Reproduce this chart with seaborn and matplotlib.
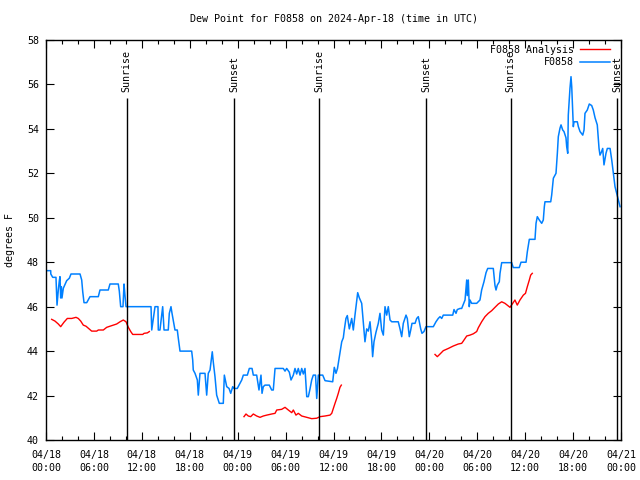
import numpy as np
import pandas as pd
import matplotlib
matplotlib.use('Agg')
import matplotlib.pyplot as plt
import matplotlib.dates as mdates
from matplotlib.lines import Line2D
import seaborn as sns

start = pd.Timestamp('2024-04-18 00:00')

# Observed dew point (F0858): hours since start, degrees F
obs_hours = [0.1, 0.59, 0.6, 0.84, 1.25, 1.38, 1.54, 1.67, 1.75, 1.84, 1.92, 2.0, 2.17, 2.59, 2.92, 3.13,
             4.26, 4.47, 4.6, 4.76, 5.1, 5.51, 6.55, 6.76, 7.8, 8.01, 9.05, 9.18, 9.35, 9.64, 9.77, 9.89,
             10.02, 13.15, 13.24, 13.65, 14.02, 14.06, 14.27, 14.61, 14.78, 15.31, 15.44, 15.65, 15.78,
             16.15, 16.44, 16.57, 16.78, 18.24, 18.37, 18.44, 18.66, 18.95, 19.07, 19.28, 19.91, 20.12,
             20.32, 20.54, 20.82, 20.95, 21.16, 21.37, 21.7, 22.2, 22.33, 22.63, 22.92, 23.13, 23.38,
             23.54, 23.95, 24.51, 24.71, 25.21, 25.46, 25.8, 25.96, 26.38, 26.67, 26.92, 27.05, 27.21,
             27.42, 27.96, 28.26, 28.46, 28.68, 29.71, 29.93, 30.14, 30.47, 30.68, 30.97, 31.18, 31.39,
             31.59, 31.81, 32.02, 32.22, 32.43, 32.65, 32.85, 33.06, 33.27, 33.47, 33.75, 33.9, 34.1,
             34.65, 34.94, 35.9, 36.1, 36.31, 36.5, 36.73, 37.03, 37.23, 37.35, 37.56, 37.73, 37.98,
             38.28, 38.48, 38.69, 38.9, 39.03, 39.23, 39.53, 39.73, 39.94, 40.16, 40.36, 40.57, 40.78,
             40.9, 41.07, 41.32, 41.61, 41.82, 42.03, 42.24, 42.45, 42.66, 42.86, 43.08, 43.29, 44.11,
             44.33, 44.54, 44.74, 45.08, 45.24, 45.49, 45.67, 45.83, 46.21, 46.42, 46.62, 46.74, 46.92,
             47.08, 47.33, 47.58, 48.5, 48.83, 49.12, 49.34, 49.55, 49.75, 50.93, 51.09, 51.34, 51.5,
             51.84, 52.05, 52.25, 52.47, 52.68, 52.75, 52.88, 53.0, 53.09, 53.3, 53.93, 54.34, 54.55,
             54.84, 55.1, 55.31, 56.01, 56.1, 56.22, 56.35, 56.51, 56.76, 56.85, 57.06, 58.31, 58.51,
             59.26, 59.48, 60.11, 60.27, 60.52, 61.23, 61.36, 61.52, 61.77, 62.07, 62.27, 62.4, 62.48,
             63.2, 63.32, 63.45, 63.53, 63.86, 64.03, 64.15, 64.36, 64.49, 64.7, 64.86, 65.11, 65.2,
             65.33, 65.4, 65.61, 65.74, 65.83, 65.95, 66.03, 66.12, 66.53, 66.66, 66.87, 67.21, 67.37,
             67.49, 67.78, 68.03, 68.33, 68.53, 68.75, 69.03, 69.25, 69.37, 69.54, 69.71, 69.87, 70.12,
             70.29, 70.63, 70.84, 71.04, 71.25, 71.46, 71.66, 71.88]
obs_values = [47.62, 47.62, 47.47, 47.32, 47.32, 46.07, 46.75, 47.17, 47.35, 46.39, 46.9, 46.39, 46.83,
              47.17, 47.28, 47.47, 47.47, 47.2, 46.67, 46.18, 46.18, 46.45, 46.45, 46.75, 46.75, 47.02,
              47.02, 46.7, 46.0, 46.0, 47.02, 46.5, 46.0, 46.0, 44.95, 46.0, 46.0, 44.95, 44.95, 46.0,
              44.95, 44.95, 45.7, 46.0, 45.7, 44.95, 44.95, 44.57, 44.0, 44.0, 43.6, 43.15, 43.0, 42.7,
              42.02, 43.0, 43.0, 42.02, 43.0, 43.15, 43.97, 43.5, 42.85, 42.02, 41.65, 41.65, 42.92,
              42.4, 42.32, 42.1, 42.4, 42.32, 42.32, 42.7, 42.92, 42.92, 43.22, 43.22, 42.92, 42.92,
              42.25, 42.92, 42.1, 42.4, 42.47, 42.47, 42.25, 42.25, 43.22, 43.22, 43.1, 43.22, 43.05,
              42.7, 42.92, 43.22, 42.97, 43.22, 42.92, 43.22, 42.97, 43.22, 41.95, 41.95, 42.3, 42.7,
              42.92, 42.92, 41.87, 42.92, 42.92, 42.67, 42.62, 43.27, 43.0, 43.22, 43.75, 44.42, 44.6,
              44.95, 45.47, 45.6, 45.0, 45.47, 44.95, 45.62, 46.22, 46.63, 46.4, 46.15, 45.32, 44.42,
              45.0, 44.9, 45.32, 44.5, 43.75, 44.42, 44.85, 45.25, 45.7, 44.95, 44.72, 46.0, 45.62,
              46.0, 45.4, 45.32, 45.32, 45.0, 44.65, 45.25, 45.62, 45.47, 44.65, 44.95, 45.25, 45.25,
              45.47, 45.55, 45.32, 45.0, 44.8, 44.88, 45.1, 45.1, 45.32, 45.47, 45.55, 45.47, 45.62,
              45.62, 45.87, 45.7, 45.87, 45.92, 45.92, 46.1, 46.3, 47.2, 46.5, 47.2, 46.0, 46.3, 46.15,
              46.15, 46.3, 46.75, 47.12, 47.53, 47.72, 47.72, 47.4, 46.95, 46.75, 46.97, 47.12, 47.5,
              47.98, 47.98, 47.76, 47.76, 48.0, 48.0, 48.47, 49.03, 49.03, 49.75, 50.05, 49.9, 49.75,
              49.9, 50.5, 50.72, 50.72, 51.02, 51.47, 51.78, 52.0, 52.9, 53.65, 54.03, 54.18, 53.95,
              53.88, 53.6, 53.2, 52.9, 54.62, 55.82, 56.35, 55.9, 54.85, 54.1, 54.32, 54.32, 54.1,
              53.88, 53.72, 53.95, 54.7, 54.85, 55.12, 55.05, 54.85, 54.5, 54.18, 53.12, 52.82, 52.95,
              53.12, 52.38, 52.9, 53.12, 53.12, 52.6, 52.0, 51.4, 51.1, 50.8, 50.5]

# Analysis dew point (F0858 Analysis)
ana_hours = [0.71, 1.13, 1.54, 1.84, 2.25, 2.67, 3.22, 3.76, 4.04, 4.35, 4.67, 5.01, 5.3, 5.72, 6.35,
             6.55, 7.18, 7.6, 8.01, 8.85, 9.27, 9.68, 10.02, 10.31, 10.61, 10.86, 12.11, 12.28, 12.69,
             12.94,
             24.79, 25.04, 25.33, 25.63, 25.96, 26.38, 26.8, 27.21, 27.64, 28.26, 28.68, 28.89, 29.51,
             29.93, 30.34, 30.77, 30.97, 31.3, 31.59, 32.02, 32.65, 33.27, 33.9, 34.31, 34.94, 35.56,
             35.78, 35.98, 36.19, 36.4, 36.6, 36.81, 36.98,
             48.71, 49.0, 49.34, 49.75, 50.38, 51.0, 51.63, 52.05, 52.25, 52.68, 53.09, 53.51, 53.93,
             54.13, 54.55, 54.97, 55.38, 55.81, 56.22, 56.64, 57.06, 57.47, 57.89, 58.1, 58.35, 58.72,
             59.01, 59.35, 59.77, 60.04, 60.27, 60.52, 60.69, 60.89]
ana_values = [45.43, 45.35, 45.22, 45.1, 45.3, 45.47, 45.47, 45.52, 45.47, 45.35, 45.17, 45.12, 45.03,
              44.9, 44.9, 44.95, 44.95, 45.07, 45.12, 45.22, 45.32, 45.4, 45.32, 45.07, 44.88, 44.75,
              44.75, 44.8, 44.82, 44.88,
              41.05, 41.17, 41.08, 41.05, 41.17, 41.08, 41.02, 41.08, 41.12, 41.17, 41.2, 41.35, 41.38,
              41.47, 41.35, 41.23, 41.35, 41.12, 41.2, 41.08, 41.02, 40.96, 40.98, 41.05, 41.08, 41.12,
              41.2, 41.42, 41.65, 41.87, 42.1, 42.37, 42.47,
              43.85, 43.75, 43.87, 44.02, 44.12, 44.23, 44.32, 44.35, 44.45, 44.68, 44.72, 44.78, 44.88,
              45.05, 45.32, 45.55, 45.7, 45.82, 45.97, 46.12, 46.22, 46.15, 46.03, 45.97, 46.1, 46.3,
              46.07, 46.3, 46.52, 46.6, 46.9, 47.2, 47.42, 47.5]

sunrise_hours = [10.1, 34.2, 58.2]
sunset_hours = [23.55, 47.6, 71.55]

FONT = ['DejaVu Sans Mono']
FS = 7.2
plt.rcParams['font.family'] = FONT

fig = plt.figure(figsize=(6.4, 4.8), dpi=100)
ax = fig.add_axes([46 / 640, 40 / 480, 575 / 640, 400 / 480])

obs_df = pd.DataFrame({'time': start + pd.to_timedelta(obs_hours, unit='h'), 'value': obs_values})
ah = np.array(ana_hours)
seg = np.concatenate([[0], np.cumsum(np.diff(ah) > 3)])
ana_df = pd.DataFrame({'time': start + pd.to_timedelta(ana_hours, unit='h'),
                       'value': ana_values, 'seg': seg})

sns.lineplot(data=obs_df, x='time', y='value', color='#0080ff', lw=1.1, ax=ax,
             estimator=None, sort=False)
sns.lineplot(data=ana_df, x='time', y='value', units='seg', color='#ff0000', lw=1.0, ax=ax,
             estimator=None, sort=False)

for h in sunrise_hours:
    t = start + pd.Timedelta(hours=h)
    ax.vlines(t, 40, 55.4, color='black', lw=1.0)
    ax.text(t, 55.65, 'Sunrise', rotation=90, ha='center', va='bottom', fontsize=FS)
for h in sunset_hours:
    t = start + pd.Timedelta(hours=h)
    ax.vlines(t, 40, 55.4, color='black', lw=1.0)
    ax.text(t, 55.65, 'Sunset', rotation=90, ha='center', va='bottom', fontsize=FS)

ax.set_xlim(start, start + pd.Timedelta(hours=72))
ax.set_ylim(40, 58)
ax.set_yticks(range(40, 59, 2))
ax.xaxis.set_major_locator(mdates.HourLocator(byhour=[0, 6, 12, 18]))
ax.xaxis.set_minor_locator(mdates.HourLocator(byhour=list(range(0, 24, 2))))
ax.xaxis.set_major_formatter(mdates.DateFormatter('%m/%d\n%H:%M'))
ax.set_xlabel('')
ax.set_ylabel('')
ax.tick_params(which='both', direction='in', top=True, right=True, bottom=True, left=True,
               color='black', labelcolor='black', labelsize=FS, width=0.8)
ax.tick_params(which='major', length=6)
ax.tick_params(which='minor', length=3)
ax.tick_params(axis='x', which='major', pad=7)
ax.tick_params(axis='y', which='major', pad=5)
for s in ax.spines.values():
    s.set_color('black')
    s.set_linewidth(1.0)
ax.grid(False)

handles = [Line2D([], [], color='#ff0000', lw=1.0), Line2D([], [], color='#0080ff', lw=1.1)]
ax.legend(handles, ['F0858 Analysis', 'F0858'], loc='upper right', frameon=False,
          markerfirst=False, fontsize=FS, handlelength=3.0, handletextpad=0.6,
          labelspacing=0.25, borderpad=0, borderaxespad=0,
          bbox_to_anchor=((610 - 46) / 575, (440 - 45) / 400))

fig.text(333.5 / 640, 1 - 19 / 480, 'Dew Point for F0858 on 2024-Apr-18 (time in UTC)',
         ha='center', va='center', fontsize=FS)
fig.text(10.5 / 640, 0.5, 'degrees F', rotation=90, ha='center', va='center', fontsize=FS)

fig.canvas.draw()
for lbl in ax.get_xticklabels():
    lbl.set_linespacing(1.45)

fig.savefig('out.png', dpi=100)
